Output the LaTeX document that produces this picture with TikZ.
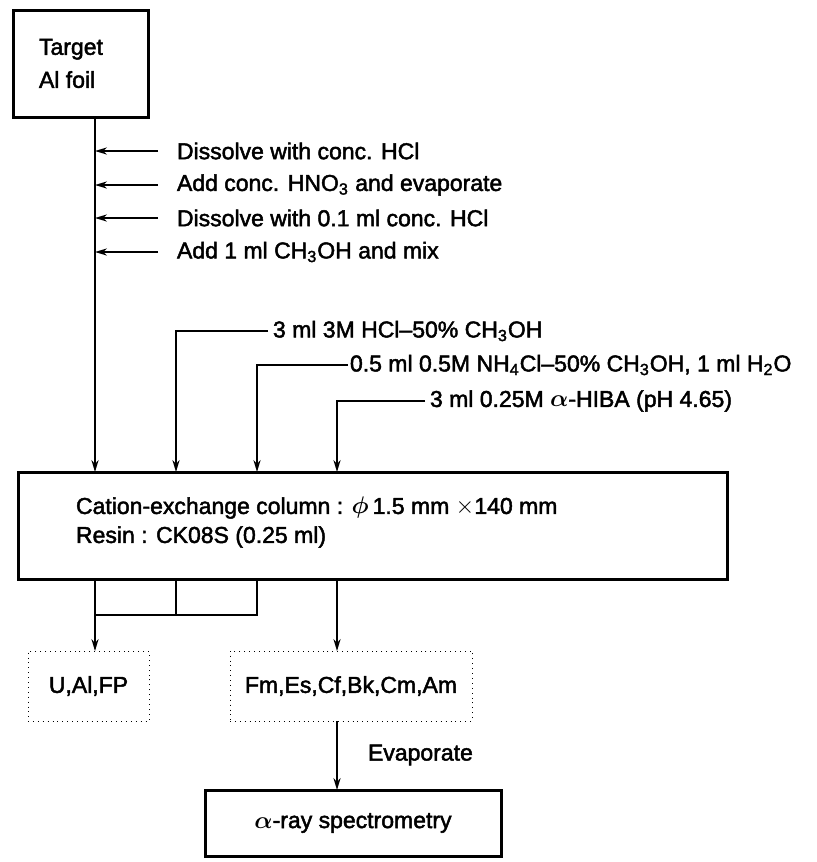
\documentclass[tikz,border=0pt]{standalone}
\usepackage{amsmath}
\usepackage{fontspec}
\setmainfont{Liberation Sans}
\newfontfamily\diagfont{Liberation Sans}[FakeBold=2]
\usetikzlibrary{arrows.meta}
\begin{document}
\begin{tikzpicture}[x=0.5pt,y=-0.5pt,
  every node/.style={font=\diagfont\fontsize{11.5}{14}\selectfont, inner sep=0pt, outer sep=0pt},
  thickbox/.style={draw, line width=1.5pt},
  dotbox/.style={draw, dotted, line width=0.45pt},
  conn/.style={line width=0.75pt},
  arr/.style={conn, -{Stealth[length=6pt,width=3.6pt]}},
  lbl/.style={anchor=west}]
\useasboundingbox (0,0) rectangle (817,862);

% boxes
\node[thickbox, minimum width=67.5pt, minimum height=53.5pt] (target) at (80.5,63.5) {};
\node[lbl, align=left, font=\diagfont\fontsize{11.5}{16.5}\selectfont] (ttext) at (39,63.5) {Target\\Al foil};
\node[thickbox, minimum width=354.5pt, minimum height=53.5pt] (column) at (372.5,525.5) {};
\node[dotbox, minimum width=60.5pt, minimum height=35pt] (ualfp) at (88.5,686) {U,Al,FP};
\node[dotbox, minimum width=121pt, minimum height=35pt] (fm) at (351,686) {Fm,Es,Cf,Bk,Cm,Am};
\node[thickbox, minimum width=148pt, minimum height=33pt] (spec) at (353,823) {$\boldsymbol{\alpha}$-ray spectrometry};

% column text
\node[lbl] (c1) at (76,508) {Cation-exchange column : $\boldsymbol{\phi}$\,1.5 mm $\times$140 mm};
\node[lbl] (c2) at (76,537) {Resin : CK08S (0.25 ml)};

% x positions
\coordinate (xa) at (95,0);
\coordinate (xb) at (176,0);
\coordinate (xc) at (257,0);
\coordinate (xd) at (337,0);

% main line
\draw[arr] (target.south -| xa) -- (column.north -| xa);

% left additions
\node[lbl] (s1) at (177,151) {Dissolve with conc. HCl};
\node[lbl] (s2) at (177,185) {Add conc. HNO\textsubscript{3} and evaporate};
\node[lbl] (s3) at (177,218) {Dissolve with 0.1 ml conc. HCl};
\node[lbl] (s4) at (177,252) {Add 1 ml CH\textsubscript{3}OH and mix};
\foreach \s in {s1,s2,s3,s4}
  \draw[arr] ([xshift=-9.5pt]\s.west) -- (\s.west -| xa);

% eluents
\node[lbl] (r1) at (273,331) {3 ml 3M HCl\textendash 50\% CH\textsubscript{3}OH};
\node[lbl] (r2) at (350,365) {0.5 ml 0.5M NH\textsubscript{4}Cl\textendash 50\% CH\textsubscript{3}OH, 1 ml H\textsubscript{2}O};
\node[lbl] (r3) at (430,401) {3 ml 0.25M $\boldsymbol{\alpha}$-HIBA (pH 4.65)};
\draw[arr] ([xshift=-2.5pt]r1.west) -| (column.north -| xb);
\draw[arr] ([xshift=-1pt]r2.west) -| (column.north -| xc);
\draw[arr] ([xshift=-2.5pt]r3.west) -| (column.north -| xd);

% outputs
\coordinate (split) at (95,615);
\draw[conn] (column.south -| xa) -- (split) -- (split -| xc) -- (column.south -| xc);
\draw[conn] (column.south -| xb) -- (split -| xb);
\draw[arr] (split) -- (ualfp.north -| split);
\draw[arr] (column.south -| xd) -- (fm.north -| xd);
\draw[arr] (fm.south -| xd) -- (spec.north -| xd);
\node[lbl] (evap) at (368,755) {Evaporate};
\end{tikzpicture}
\end{document}
